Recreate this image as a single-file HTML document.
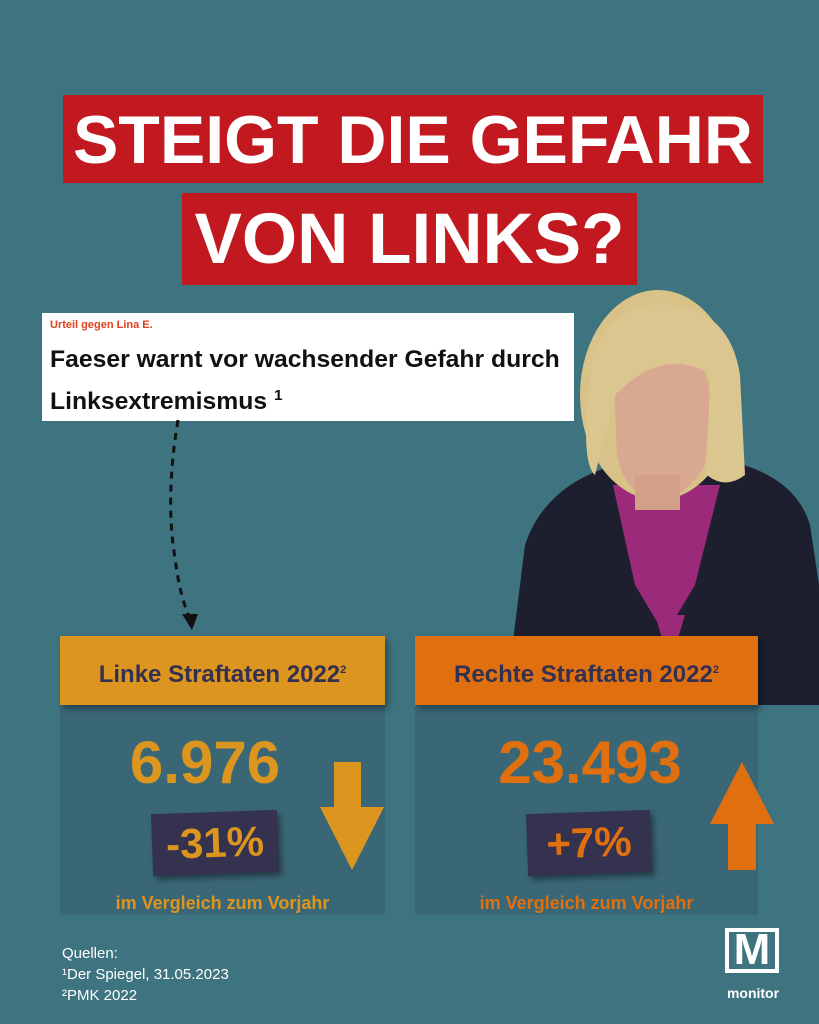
<!DOCTYPE html>
<html><head><meta charset="utf-8"><style>
body{margin:0;width:819px;height:1024px;overflow:hidden;background:#3e7380;font-family:"Liberation Sans","DejaVu Sans",sans-serif;position:relative}
.a{position:absolute}
.t{background:#c2181f;color:#fff;font-weight:bold;text-align:center;white-space:nowrap;overflow:hidden}
.t span{display:inline-block}
.hd{color:#34304f;font-weight:bold;font-size:24px;text-align:center;line-height:69px;box-shadow:3px 4px 6px rgba(0,0,0,.35)}
.pn{background:#3a6775;}
.num{font-weight:bold;font-size:60px;text-align:center}
.pc{background:#34324f;font-weight:bold;font-size:42px;text-align:center;box-shadow:3px 4px 6px rgba(0,0,0,.4)}
.vg{font-weight:bold;font-size:18px;text-align:center}
</style></head><body>
<div class="a t" style="left:63px;top:95px;width:700px;height:88px;font-size:68px;line-height:90px"><span>STEIGT DIE GEFAHR</span></div>
<div class="a t" style="left:182px;top:193px;width:455px;height:92px;font-size:71px;line-height:94px"><span>VON LINKS?</span></div>

<svg class="a" style="left:495px;top:285px" width="324" height="420" viewBox="0 0 324 420">
<path d="M10 420 L30 260 Q50 200 120 180 L230 175 Q300 190 315 240 L324 300 L324 420Z" fill="#1d1f2e"/>
<path d="M118 200 L140 300 L170 350 L200 300 L225 200 Z" fill="#9b2a7a"/>
<path d="M160 330 L175 380 L190 330" fill="#9b2a7a"/>
<ellipse cx="163" cy="110" rx="78" ry="105" fill="#d8c288"/>
<path d="M120 120 Q120 60 165 55 Q215 60 215 120 L210 180 Q190 215 160 215 Q130 210 122 170Z" fill="#d9a890"/>
<rect x="140" y="190" width="45" height="35" fill="#d2a088"/>
<path d="M98 70 Q120 15 175 20 Q235 25 245 90 L250 190 Q230 205 212 190 L215 90 Q170 60 120 110 L100 190 Q88 180 92 120Z" fill="#dcc690"/>
</svg>

<div class="a" style="left:42px;top:313px;width:532px;height:108px;background:#fff"></div>
<div class="a" style="left:50px;top:319px;font-size:11px;font-weight:bold;color:#e0401c">Urteil gegen Lina E.</div>
<div class="a" style="left:50px;top:342px;font-size:24px;font-weight:bold;color:#111;line-height:36px;white-space:nowrap;transform:scaleX(1.03);transform-origin:left">Faeser warnt vor wachsender Gefahr durch<br>Linksextremismus <sup style="font-size:15px">1</sup></div>

<svg class="a" style="left:160px;top:418px" width="60" height="220">
<path d="M18 2 Q5 80 15 140 Q20 180 30 200" stroke="#111" stroke-width="3" fill="none" stroke-dasharray="7 6"/>
<polygon points="22,196 38,196 32,212" fill="#111"/>
</svg>

<div class="a pn" style="left:60px;top:705px;width:325px;height:210px"></div>
<div class="a pn" style="left:415px;top:705px;width:343px;height:210px"></div>
<div class="a hd" style="left:60px;top:636px;width:325px;height:69px;background:#dc961f">Linke Straftaten 2022<sup style="font-size:11px">2</sup></div>
<div class="a hd" style="left:415px;top:636px;width:343px;height:69px;background:#e0700f">Rechte Straftaten 2022<sup style="font-size:11px">2</sup></div>

<div class="a num" style="left:100px;top:728px;width:210px;color:#dc961f">6.976</div>
<div class="a num" style="left:470px;top:728px;width:240px;color:#e0700f">23.493</div>
<div class="a pc" style="left:152px;top:812px;width:126px;height:62px;line-height:62px;color:#dc961f;transform:rotate(-2deg)">-31%</div>
<div class="a pc" style="left:527px;top:812px;width:124px;height:62px;line-height:62px;color:#e0700f;transform:rotate(-2deg)">+7%</div>

<svg class="a" style="left:318px;top:762px" width="68" height="110"><polygon points="16,0 43,0 43,45 66,45 34,108 2,45 16,45" fill="#dc961f"/></svg>
<svg class="a" style="left:708px;top:762px" width="68" height="110"><polygon points="34,0 66,62 48,62 48,108 20,108 20,62 2,62" fill="#e0700f"/></svg>

<div class="a vg" style="left:60px;top:893px;width:325px;color:#dc961f">im Vergleich zum Vorjahr</div>
<div class="a vg" style="left:415px;top:893px;width:343px;color:#e0700f">im Vergleich zum Vorjahr</div>

<div class="a" style="left:62px;top:943px;color:#fff;font-size:15px;line-height:21px">Quellen:<br>¹Der Spiegel, 31.05.2023<br>²PMK 2022</div>

<div class="a" style="left:725px;top:928px;width:54px;height:45px;background:#fff"></div>
<div class="a" style="left:729px;top:932px;width:46px;height:37px;background:#3e7380"></div>
<div class="a" style="left:726px;top:924px;width:52px;text-align:center;color:#fff;font-weight:bold;font-size:44px;line-height:52px">M</div>
<div class="a" style="left:718px;top:985px;width:70px;text-align:center;color:#fff;font-weight:bold;font-size:14px">monitor</div>
</body></html>
